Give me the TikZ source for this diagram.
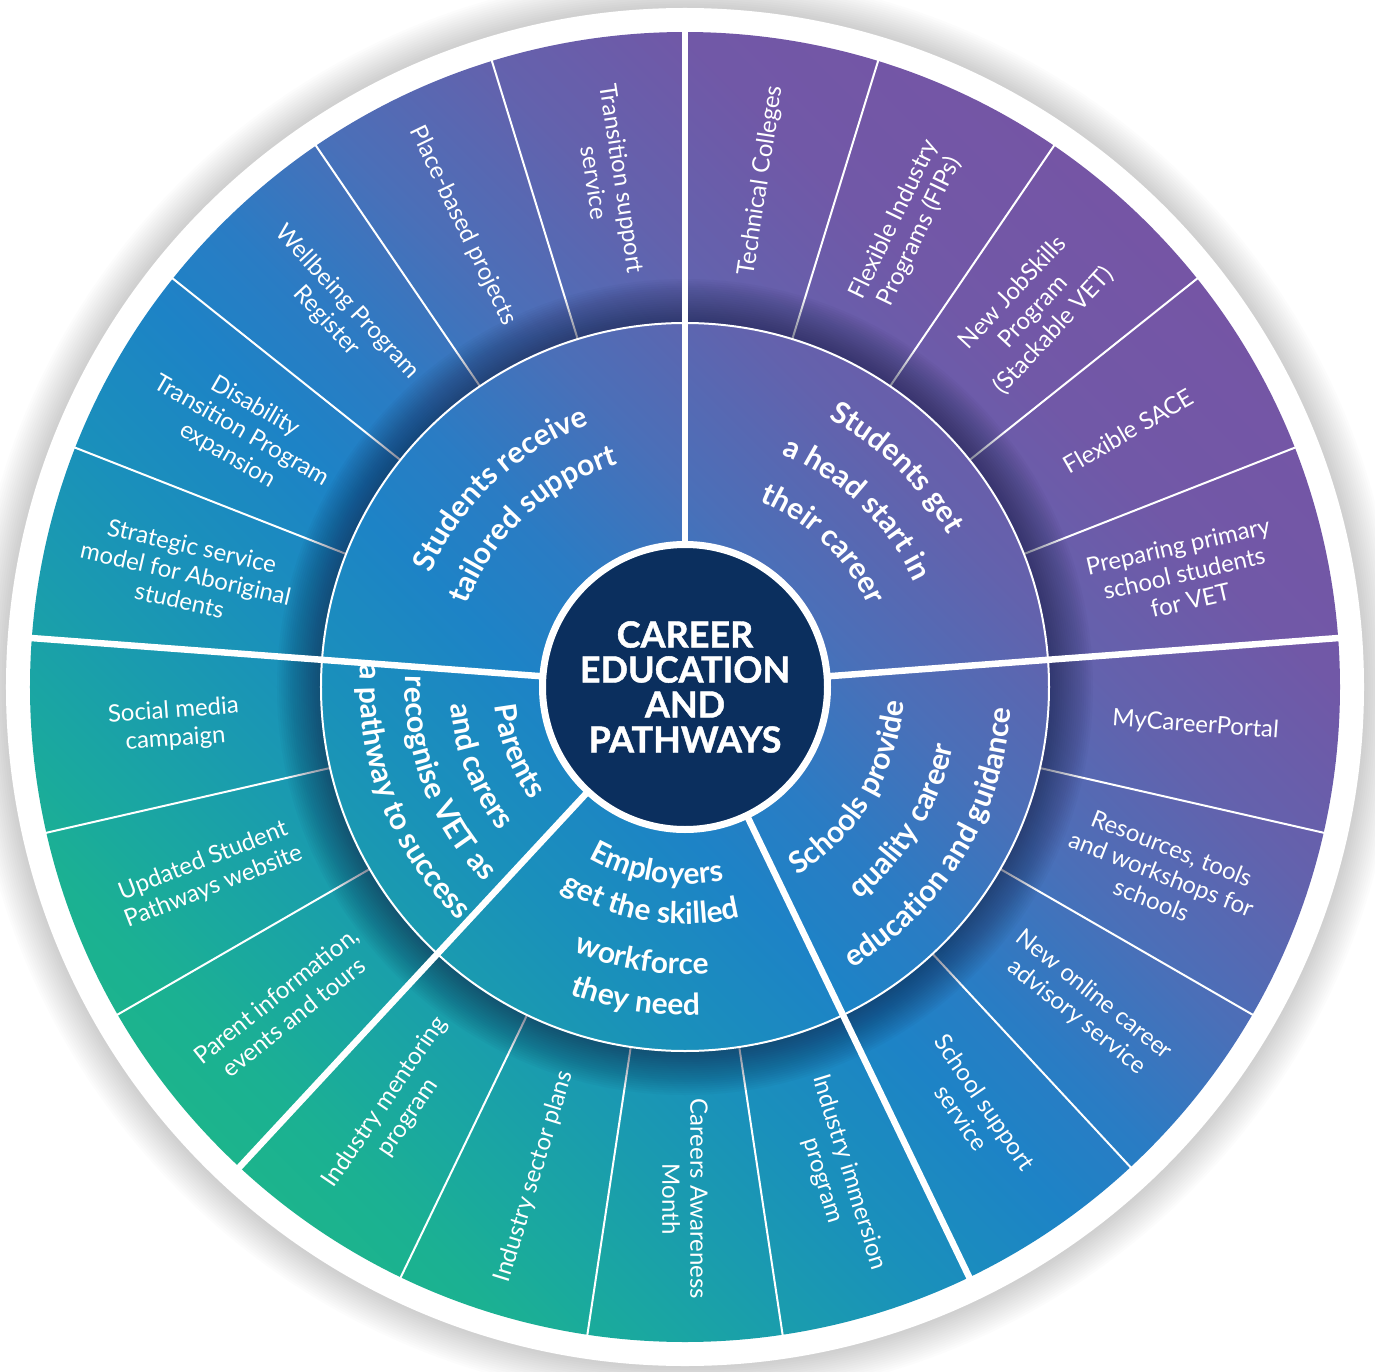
\documentclass[tikz,border=0pt]{standalone}
\usepackage{fontspec}
\setmainfont{Lato}
\newfontfamily\heavyfont{Lato}[BoldFeatures={FakeBold=1.2}]
\usetikzlibrary{decorations.text}
\definecolor{gA}{HTML}{1CB48C}
\definecolor{gB}{HTML}{1BB192}
\definecolor{gC}{HTML}{1AA7A1}
\definecolor{gD}{HTML}{1A9BAF}
\definecolor{gE}{HTML}{1A90BB}
\definecolor{gF}{HTML}{1D83C6}
\definecolor{gG}{HTML}{2A7CC4}
\definecolor{gH}{HTML}{4B6FB8}
\definecolor{gI}{HTML}{6362AD}
\definecolor{gJ}{HTML}{7158A7}
\definecolor{gK}{HTML}{7555A5}
\definecolor{navy}{HTML}{0B2F5E}
\definecolor{innershadow}{HTML}{12183A}
\pgfdeclarehorizontalshading{wheel}{100bp}{color(0bp)=(gA); color(25bp)=(gA); color(27.9bp)=(gB); color(31.7bp)=(gC); color(36bp)=(gD); color(40.3bp)=(gE); color(46bp)=(gF); color(50.05bp)=(gG); color(55.5bp)=(gH); color(61.4bp)=(gI); color(67.6bp)=(gJ); color(75bp)=(gK); color(100bp)=(gK)}
\newcommand\itemfont{\fontsize{24}{28}\selectfont}
\newcommand\midfont{\fontsize{30}{30}\selectfont\bfseries}
\newcommand\titlefont{\fontsize{36}{35}\selectfont\heavyfont\bfseries}
\tikzset{
  itemtext/.style={text=white, align=center, font=\itemfont, inner sep=0pt},
  corecircle/.style={circle, fill=navy, draw=white, line width=7pt, minimum size=285pt, inner sep=0pt, text=white, align=center, font=\titlefont},
  minorsep/.style={white, line width=2pt},
  majorsep/.style={white, line width=6.5pt},
  ringsep/.style={white, line width=2pt},
  arctext/.style={decorate, decoration={text along path, text align=center, text={|\midfont\color{white}|#1}}}
}
\begin{document}
\begin{tikzpicture}[x=1pt,y=1pt]
\useasboundingbox (-685,-684) rectangle (690,687);
% soft drop shadow
\foreach \i in {1,...,16} \fill[black, opacity=0.013] (0,0) circle[radius={(679+2.2*\i)*1pt}];
% white rim
\fill[white] (0,0) circle[radius=679pt];
% global gradient
\begin{scope}[transform canvas={rotate=45}]
  \clip (0,0) circle[radius=655pt];
  \shade[shading=wheel] (-656pt,-656pt) rectangle (656pt,656pt);
\end{scope}
% thin separators between items
\foreach \j in {0,...,20} \draw[minorsep] ({90-\j*360/21}:364pt) -- ({90-\j*360/21}:657pt);
% inner shadow on outer ring
\foreach \i in {1,...,20} \fill[innershadow, opacity=0.032, even odd rule] (0,0) circle[radius={(364+2.2*\i)*1pt}] circle[radius=364pt];
% ring line and main separators
\draw[ringsep] (0,0) circle[radius=364pt];
\foreach \j in {0,5,9,13,16} \draw[majorsep] ({90-\j*360/21}:140pt) -- ({90-\j*360/21}:657pt);
% centre
\node[corecircle] (core) at (0,0) {CAREER\\EDUCATION\\AND\\PATHWAYS};
% outer items
\foreach \k/\txt in {0/{Technical Colleges},1/{Flexible Industry\\Programs (FIPs)},2/{New JobSkills\\Program\\(Stackable VET)},3/{Flexible SACE},4/{Preparing primary\\school students\\for VET},5/{MyCareerPortal},6/{Resources, tools\\and workshops for\\schools},7/{New online career\\advisory service},8/{School support\\service},9/{Industry immersion\\program},10/{Careers Awareness\\Month},11/{Industry sector plans},12/{Industry mentoring\\program},13/{Parent information,\\events and tours},14/{Updated Student\\Pathways website},15/{Social media\\campaign},16/{Strategic service\\model for Aboriginal\\students},17/{Disability\\Transition Program\\expansion},18/{Wellbeing Program\\Register},19/{Place-based projects},20/{Transition support\\service}} {
  \pgfmathsetmacro\ang{90-(\k+0.5)*360/21}
  \pgfmathsetmacro\rot{\ang < -90.5 ? \ang+180 : \ang}
  \node[itemtext, rotate=\rot] (item\k) at (\ang:512pt) {\txt};
}
% middle ring texts
\path[arctext={Students receive}] (193:279pt) arc[start angle=193, end angle=73, radius=279pt];
\path[arctext={tailored support}] (193:233pt) arc[start angle=193, end angle=73, radius=233pt];
\path[arctext={Students get}] (106:304pt) arc[start angle=106, end angle=-14, radius=304pt];
\path[arctext={a head start in}] (106:252pt) arc[start angle=106, end angle=-14, radius=252pt];
\path[arctext={their career}] (106:200pt) arc[start angle=106, end angle=-14, radius=200pt];
\path[arctext={Schools provide}] (-101.5:219pt) arc[start angle=-101.5, end angle=38.5, radius=219pt];
\path[arctext={quality career}] (-101.5:275pt) arc[start angle=-101.5, end angle=38.5, radius=275pt];
\path[arctext={education and guidance}] (-101.5:327pt) arc[start angle=-101.5, end angle=38.5, radius=327pt];
\path[arctext={Employers}] (-169:197pt) arc[start angle=-169, end angle=-29, radius=197pt];
\path[arctext={get the skilled}] (-169:237pt) arc[start angle=-169, end angle=-29, radius=237pt];
\path[arctext={workforce}] (-169:287pt) arc[start angle=-169, end angle=-29, radius=287pt];
\path[arctext={they need}] (-169:328pt) arc[start angle=-169, end angle=-29, radius=328pt];
\path[arctext={Parents}] (131:191pt) arc[start angle=131, end angle=271, radius=191pt];
\path[arctext={and carers}] (131:235pt) arc[start angle=131, end angle=271, radius=235pt];
\path[arctext={recognise VET as}] (131:280pt) arc[start angle=131, end angle=271, radius=280pt];
\path[arctext={a pathway to success}] (131:325pt) arc[start angle=131, end angle=271, radius=325pt];
\end{tikzpicture}
\end{document}
